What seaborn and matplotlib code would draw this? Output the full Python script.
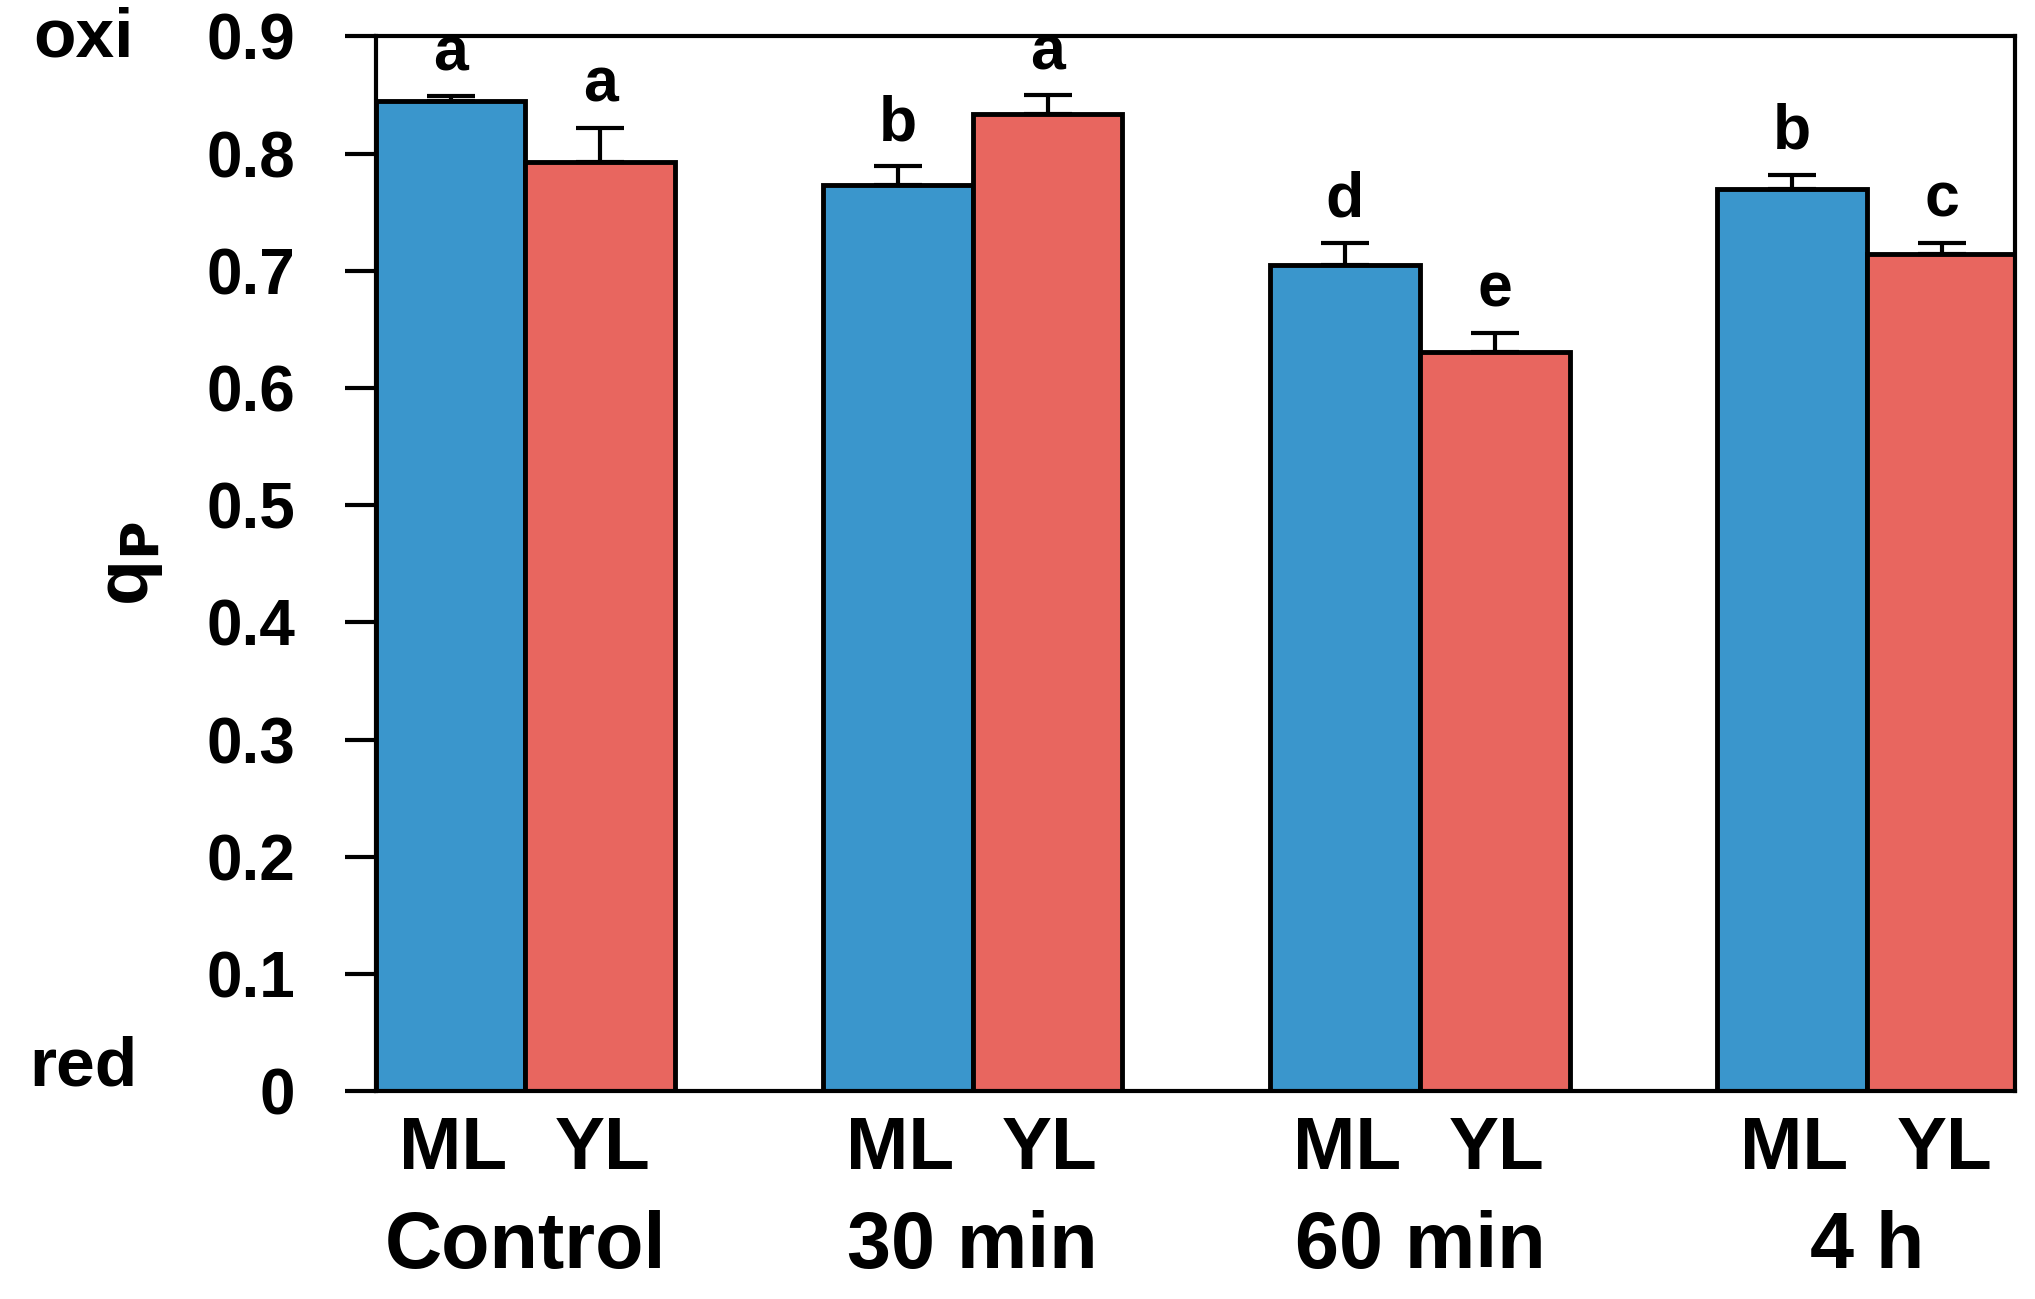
import matplotlib
matplotlib.use("Agg")
import matplotlib.pyplot as plt
import seaborn as sns
import pandas as pd
import numpy as np

# ---- data ----
groups = ["Control", "30 min", "60 min", "4 h"]
leaves = ["ML", "YL"]
ml_values = [0.845, 0.773, 0.705, 0.770]
yl_values = [0.793, 0.834, 0.631, 0.714]
ml_err = [0.004, 0.016, 0.019, 0.012]
yl_err = [0.029, 0.016, 0.016, 0.010]
ml_letters = ["a", "b", "d", "b"]
yl_letters = ["a", "a", "e", "c"]
yticks = [0, 0.1, 0.2, 0.3, 0.4, 0.5, 0.6, 0.7, 0.8, 0.9]
ytick_labels = ["0", "0.1", "0.2", "0.3", "0.4", "0.5", "0.6", "0.7", "0.8", "0.9"]

df = pd.DataFrame({
    "group": groups * 2,
    "leaf": ["ML"] * 4 + ["YL"] * 4,
    "value": ml_values + yl_values,
    "err": ml_err + yl_err,
    "letter": ml_letters + yl_letters,
})

sns.set_theme(style="white")
plt.rcParams["font.family"] = ["Liberation Sans", "DejaVu Sans"]
plt.rcParams["font.weight"] = "bold"
plt.rcParams["text.color"] = "black"
plt.rcParams["axes.labelcolor"] = "black"
plt.rcParams["ytick.color"] = "black"
plt.rcParams["xtick.color"] = "black"

fig = plt.figure(figsize=(20.35, 12.99), dpi=100)
ax = fig.add_axes([0.1846, 0.160, 0.8054, 0.812])

palette = {"ML": "#3A96CC", "YL": "#E8665F"}
sns.barplot(data=df, x="group", y="value", hue="leaf", order=groups,
            hue_order=leaves, palette=palette, edgecolor="black",
            linewidth=3.5, width=0.67, saturation=1, errorbar=None, ax=ax,
            legend=False)

# error bars and letters from bar patches
bars = [p for p in ax.patches]
for leaf_i, leaf in enumerate(leaves):
    sub = df[df["leaf"] == leaf].set_index("group").loc[groups]
    for gi, g in enumerate(groups):
        p = bars[leaf_i * len(groups) + gi]
        xc = p.get_x() + p.get_width() / 2
        h = p.get_height()
        e = sub.loc[g, "err"]
        ax.errorbar([xc], [h], yerr=[[0], [e]], fmt="none", ecolor="black",
                    elinewidth=3, capsize=17, capthick=3, zorder=1)
        ax.text(xc, h + e + 0.011, sub.loc[g, "letter"], ha="center",
                va="bottom", fontsize=45, fontweight="bold", color="black")
        ax.text(xc + 0.005, -0.055, leaf, transform=ax.get_xaxis_transform(),
                ha="center", va="center", fontsize=54, fontweight="bold",
                color="black")

for gi, g in enumerate(groups):
    ax.text(gi, -0.148, g, transform=ax.get_xaxis_transform(), ha="center",
            va="center", fontsize=57, fontweight="bold", color="black")

ax.set_xlim(-0.335, 3.33)
ax.set_ylim(0, 0.9)
ax.set_yticks(yticks)
ax.set_yticklabels(ytick_labels, fontsize=46, fontweight="bold")
ax.set_xticks([])
ax.set_xlabel("")
ax.set_ylabel("q$_\\mathbf{P}$", fontsize=54, fontweight="bold", labelpad=30,
              color="black")
ax.tick_params(axis="y", direction="out", length=22, width=3, pad=36,
               left=True, colors="black")
for s in ax.spines.values():
    s.set_visible(True)
    s.set_color("black")
    s.set_linewidth(3)

fig.text(0.041, 0.970, "oxi", ha="center", va="center", fontsize=50,
         fontweight="bold", color="black")
fig.text(0.041, 0.178, "red", ha="center", va="center", fontsize=50,
         fontweight="bold", color="black")

fig.savefig("out.png", dpi=100, facecolor="white")
